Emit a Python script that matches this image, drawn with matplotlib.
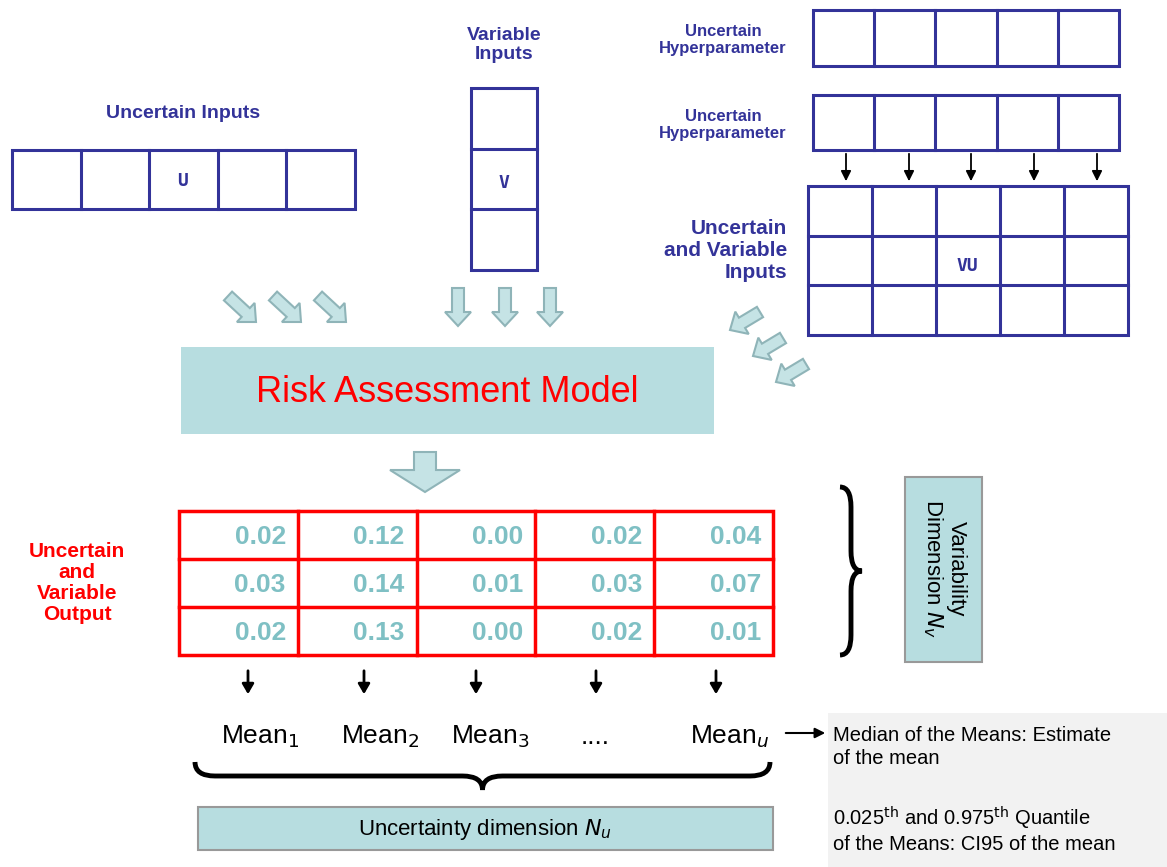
import matplotlib.pyplot as plt
from matplotlib.patches import Rectangle, FancyArrow, PathPatch
from matplotlib.path import Path

plt.rcParams['font.family'] = ['Liberation Sans', 'DejaVu Sans']

NAVY = '#333399'
TEAL = '#7fc0c4'
BOXF = '#b7dde0'
ARF = '#c5e3e5'
ARE = '#8fb4b8'

output_values = [
    [0.02, 0.12, 0.00, 0.02, 0.04],
    [0.03, 0.14, 0.01, 0.03, 0.07],
    [0.02, 0.13, 0.00, 0.02, 0.01],
]
mean_labels = ['Mean$_1$', 'Mean$_2$', 'Mean$_3$', '....', 'Mean$_u$']

fig = plt.figure(figsize=(11.67, 8.67), dpi=100)
ax = fig.add_axes([0, 0, 1, 1])
ax.set_xlim(0, 1167)
ax.set_ylim(867, 0)
ax.axis('off')


def grid(x0, y0, x1, y1, nc, nr, color=NAVY, lw=2.2):
    ax.add_patch(Rectangle((x0, y0), x1 - x0, y1 - y0, fill=False, ec=color, lw=lw))
    for i in range(1, nc):
        x = x0 + (x1 - x0) * i / nc
        ax.plot([x, x], [y0, y1], color=color, lw=lw)
    for j in range(1, nr):
        y = y0 + (y1 - y0) * j / nr
        ax.plot([x0, x1], [y, y], color=color, lw=lw)


def fat(x, y, dx, dy, w=12, hw=26, hl=14):
    ax.add_patch(FancyArrow(x, y, dx, dy, width=w, head_width=hw, head_length=hl,
                            length_includes_head=True, fc=ARF, ec=ARE, lw=1.5))


def brace_h(x0, x1, y, h):
    xm = (x0 + x1) / 2
    verts = [(x0, y), (x0, y + h / 2), (x0 + 20, y + h / 2), (xm - 20, y + h / 2),
             (xm, y + h / 2), (xm, y + h), (xm, y + h / 2), (xm + 20, y + h / 2),
             (x1 - 20, y + h / 2), (x1, y + h / 2), (x1, y)]
    codes = [Path.MOVETO, Path.CURVE3, Path.CURVE3, Path.LINETO, Path.CURVE3, Path.CURVE3,
             Path.CURVE3, Path.CURVE3, Path.LINETO, Path.CURVE3, Path.CURVE3]
    ax.add_patch(PathPatch(Path(verts, codes), fill=False, lw=3.5, ec='black'))


def brace_v(x, y0, y1, w):
    ym = (y0 + y1) / 2
    verts = [(x, y0), (x + w / 2, y0), (x + w / 2, y0 + 20), (x + w / 2, ym - 20),
             (x + w / 2, ym), (x + w, ym), (x + w / 2, ym), (x + w / 2, ym + 20),
             (x + w / 2, y1 - 20), (x + w / 2, y1), (x, y1)]
    codes = [Path.MOVETO, Path.CURVE3, Path.CURVE3, Path.LINETO, Path.CURVE3, Path.CURVE3,
             Path.CURVE3, Path.CURVE3, Path.LINETO, Path.CURVE3, Path.CURVE3]
    ax.add_patch(PathPatch(Path(verts, codes), fill=False, lw=3.5, ec='black'))


# inputs
ax.text(183, 114, 'Uncertain Inputs', color=NAVY, fontsize=14, weight='bold', ha='center', va='center')
grid(12, 150, 355, 209, 5, 1)
ax.text(183, 181, 'U', color=NAVY, fontsize=13, weight='bold', family='DejaVu Sans Mono', ha='center', va='center')

ax.text(504, 45, 'Variable\nInputs', color=NAVY, fontsize=14, weight='bold', ha='center', va='center', linespacing=1.2)
grid(471, 88, 537, 270, 1, 3)
ax.text(504, 183, 'V', color=NAVY, fontsize=13, weight='bold', family='DejaVu Sans Mono', ha='center', va='center')

for yc, (y0, y1) in [(40, (10, 66)), (125, (95, 150))]:
    ax.text(787, yc, 'Uncertain\nHyperparameter', color=NAVY, fontsize=12, weight='bold', ha='right', va='center', multialignment='center', linespacing=1.15)
    grid(813, y0, 1119, y1, 5, 1)
for x in [846, 909, 971, 1034, 1097]:
    ax.annotate('', xy=(x, 184), xytext=(x, 151), arrowprops=dict(arrowstyle='-|>,head_length=0.6,head_width=0.3', color='black', lw=1.3))

grid(808, 186, 1128, 335, 5, 3)
ax.text(967, 266, 'VU', color=NAVY, fontsize=13, weight='bold', family='DejaVu Sans Mono', ha='center', va='center')
ax.text(787, 251, 'Uncertain\nand Variable\nInputs', color=NAVY, fontsize=15, weight='bold', ha='right', va='center', multialignment='right', linespacing=1.2)

# fat arrows
for x in [228, 273, 318]:
    fat(x, 296, 28, 26)
for x in [458, 505, 550]:
    fat(x, 288, 0, 38)
for x, y in [(760, 312), (783, 338), (806, 364)]:
    fat(x, y, -30, 18)

# model
ax.add_patch(Rectangle((181, 347), 533, 87, fc=BOXF, ec='none'))
ax.text(447, 392, 'Risk Assessment Model', color='#ff0000', fontsize=26, ha='center', va='center')
fat(425, 452, 0, 40, w=22, hw=70, hl=22)

# output table
ax.text(77, 583, 'Uncertain\nand\nVariable\nOutput', color='#ff0000', fontsize=15, weight='bold', ha='center', va='center', linespacing=1.15)
tx0, ty0, tx1, ty1 = 179, 511, 773, 655
grid(tx0, ty0, tx1, ty1, 5, 3, color='#ff0000', lw=2.5)
cw = (tx1 - tx0) / 5
rh = (ty1 - ty0) / 3
for r, row in enumerate(output_values):
    for c, v in enumerate(row):
        ax.text(tx0 + cw * (c + 1) - 12, ty0 + rh * (r + 0.5) + 2, f'{v:.2f}', color=TEAL,
                fontsize=19, weight='bold', ha='right', va='center')

brace_v(840, 487, 655, 22)
ax.add_patch(Rectangle((905, 477), 77, 185, fc=BOXF, ec='#999999', lw=1.5))
ax.text(944, 569, 'Variability\nDimension $N_v$', fontsize=16, rotation=-90, ha='center', va='center', linespacing=1.1)

for x in [248, 364, 476, 596, 716]:
    ax.annotate('', xy=(x, 697), xytext=(x, 668), arrowprops=dict(arrowstyle='-|>,head_length=0.6,head_width=0.35', color='black', lw=2))

for x, lab in zip([260, 380, 490, 595, 730], mean_labels):
    ax.text(x, 737, lab, fontsize=19, ha='center', va='center')

ax.annotate('', xy=(828, 733), xytext=(783, 733), arrowprops=dict(arrowstyle='-|>,head_length=0.6,head_width=0.3', color='black', lw=1.5))
ax.add_patch(Rectangle((828, 713), 339, 154, fc='#f2f2f2', ec='none'))
ax.text(833, 747, 'Median of the Means: Estimate\nof the mean', fontsize=14.5, va='center', linespacing=1.3)
ax.text(833, 829, '0.025$^{\\mathrm{th}}$ and 0.975$^{\\mathrm{th}}$ Quantile\nof the Means: CI95 of the mean', fontsize=14.5, va='center', linespacing=1.2)

brace_h(195, 770, 762, 28)
ax.add_patch(Rectangle((198, 807), 575, 43, fc=BOXF, ec='#999999', lw=1.5))
ax.text(485, 830, 'Uncertainty dimension $N_u$', fontsize=16, ha='center', va='center')

plt.savefig('out.png', dpi=100)
